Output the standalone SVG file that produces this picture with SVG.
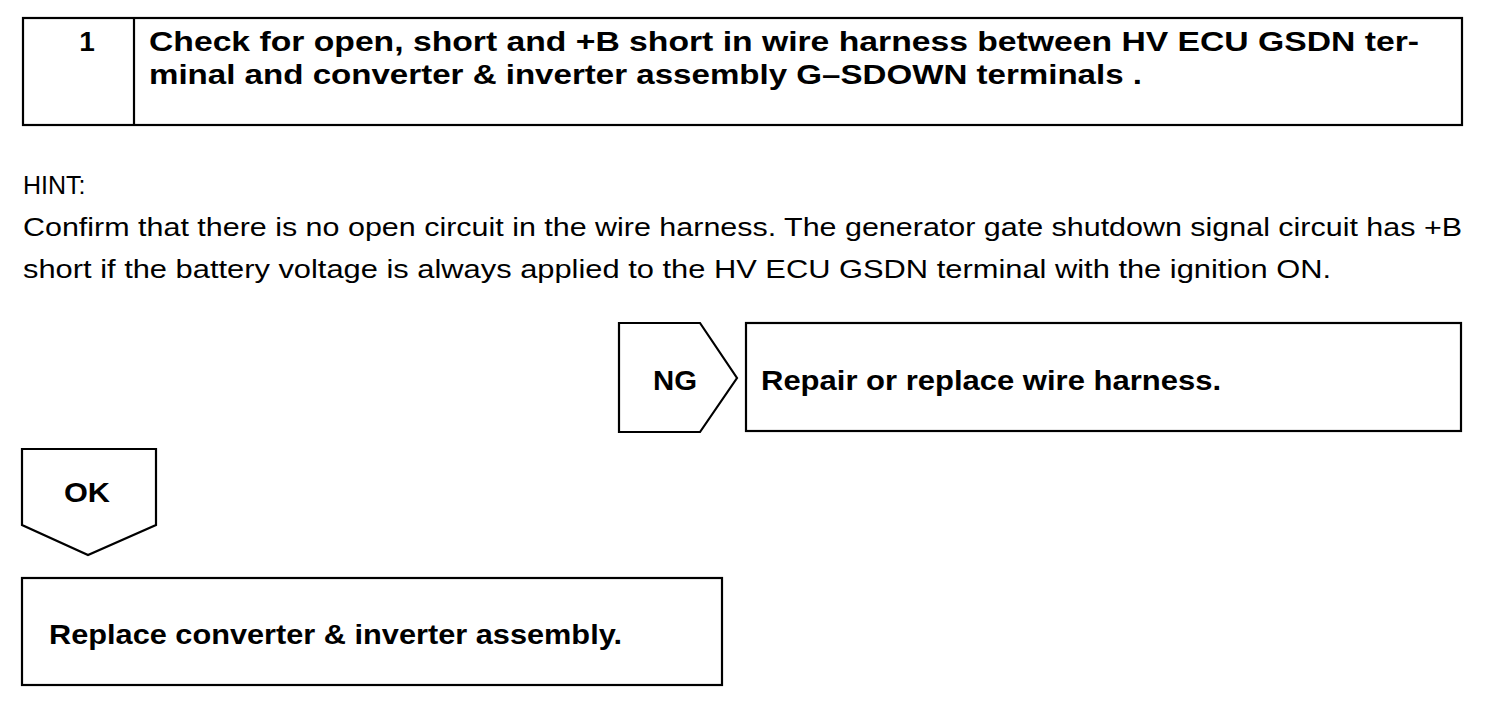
<svg xmlns="http://www.w3.org/2000/svg" width="1504" height="706" viewBox="0 0 1504 706">
<style>
.box{fill:#fff;stroke:#000;stroke-width:2.2}
.b{font-family:"Liberation Sans",Arial,sans-serif;font-weight:bold;font-size:28px;fill:#000}
.n{font-family:"Liberation Sans",Arial,sans-serif;font-size:25px;fill:#000}
</style>
<rect width="1504" height="706" fill="#fff"/>
<g id="step1">
<rect class="box" x="23" y="18" width="1439" height="107"/>
<line x1="134" y1="18" x2="134" y2="125" stroke="#000" stroke-width="2.2"/>
<text class="b" x="87" y="51" text-anchor="middle">1</text>
<text class="b" x="149" y="51" textLength="1270" lengthAdjust="spacingAndGlyphs">Check for open, short and +B short in wire harness between HV ECU GSDN ter-</text>
<text class="b" x="149" y="84" textLength="993" lengthAdjust="spacingAndGlyphs">minal and converter &amp; inverter assembly G–SDOWN terminals .</text>
</g>
<g id="hint">
<text class="n" x="23" y="194">HINT:</text>
<text class="n" x="23" y="236" textLength="1439" lengthAdjust="spacingAndGlyphs">Confirm that there is no open circuit in the wire harness. The generator gate shutdown signal circuit has +B</text>
<text class="n" x="23" y="278" textLength="1308" lengthAdjust="spacingAndGlyphs">short if the battery voltage is always applied to the HV ECU GSDN terminal with the ignition ON.</text>
</g>
<g id="connectors">
<g id="ng">
<polygon class="box" points="619,323 700,323 737,378 700,432 619,432"/>
<text class="b" x="675" y="390" text-anchor="middle" textLength="44" lengthAdjust="spacingAndGlyphs">NG</text>
</g>
<g id="ok">
<polygon class="box" points="22,449 156,449 156,525 88,555 22,525"/>
<text class="b" x="87" y="502" text-anchor="middle" textLength="46" lengthAdjust="spacingAndGlyphs">OK</text>
</g>
</g>
<g id="repair">
<rect class="box" x="746" y="323" width="715" height="108"/>
<text class="b" x="761" y="390" textLength="460" lengthAdjust="spacingAndGlyphs">Repair or replace wire harness.</text>
</g>
<g id="replace">
<rect class="box" x="22" y="578" width="700" height="107"/>
<text class="b" x="49" y="644" textLength="573" lengthAdjust="spacingAndGlyphs">Replace converter &amp; inverter assembly.</text>
</g>
</svg>
